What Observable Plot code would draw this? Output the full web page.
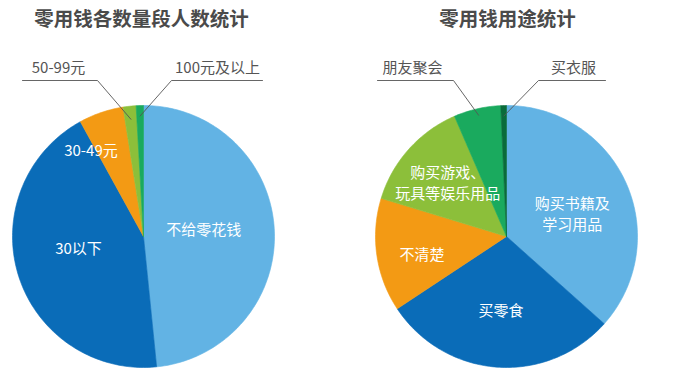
<!DOCTYPE html>
<html><head><meta charset="utf-8">
<script src="https://cdn.jsdelivr.net/npm/d3@7"></script>
<script src="https://cdn.jsdelivr.net/npm/@observablehq/plot@0.6"></script>
<style>
body{margin:0;background:#fff;}
#chart svg{display:block;}
</style>
</head><body><div id="chart"></div>
<script>
// Left pie: 零用钱各数量段人数统计 (percent, clockwise from top)
const amountTitle = "零用钱各数量段人数统计";
const amountCats = ["不给零花钱", "30以下", "30-49元", "50-99元", "100元及以上"];
const amountVals = [48.4, 43.6, 5.5, 1.6, 0.9];
const amountColors = ["#62b3e4", "#0a6cb8", "#f39a14", "#8cbf3a", "#1aaa5e"];

// Right pie: 零用钱用途统计
const usageTitle = "零用钱用途统计";
const usageCats = ["购买书籍及\n学习用品", "买零食", "不清楚", "购买游戏、\n玩具等娱乐用品", "朋友聚会", "买衣服"];
const usageVals = [36.6, 29.1, 14.0, 13.8, 5.8, 0.7];
const usageColors = ["#62b3e4", "#0a6cb8", "#f39a14", "#8cbf3a", "#1aaa5e", "#0a6b3a"];

const W = 689, H = 386, R = 131;
const pies = [
  {title: amountTitle, cats: amountCats, vals: amountVals, colors: amountColors, cx: 143, cy: 236, tx: 141,
   labelPos: {"不给零花钱": [0.46, 0, -5], "30以下": [0.52, 0, -9], "30-49元": [0.72, -22, 2]},
   lead: {"50-99元": {tx: 58, dir: -1, lineL: 22, lineR: 97, tip: 0.9}, "100元及以上": {tx: 217, dir: 1, lineL: 171, lineR: 262, tip: 0.92}}},
  {title: usageTitle, cats: usageCats, vals: usageVals, colors: usageColors, cx: 506, cy: 236, tx: 507,
   labelPos: {"购买书籍及\n学习用品": [0.55, 0, 6], "买零食": [0.57, 0, -2], "不清楚": [0.66, 1, 4], "购买游戏、\n玩具等娱乐用品": [0.6, 0, -2]},
   lead: {"朋友聚会": {tx: 412, dir: -1, lineL: 377, lineR: 453, tip: 0.95}, "买衣服": {tx: 573, dir: 1, lineL: 538, lineR: 605, tip: 0.92}}}
];

const polys = [], inLabels = [], titles = [], leadLines = [], leadTexts = [];
pies.forEach((p, pi) => {
  const arcs = d3.pie().sort(null).value(d => d)(p.vals);
  titles.push({x: p.tx, y: 19, t: p.title});
  arcs.forEach((a, i) => {
    const id = pi + "-" + i;
    const pts = [[p.cx, p.cy]];
    const n = Math.max(2, Math.ceil((a.endAngle - a.startAngle) / 0.02));
    for (let k = 0; k <= n; k++) {
      const ang = a.startAngle + (a.endAngle - a.startAngle) * k / n;
      pts.push([p.cx + R * Math.sin(ang), p.cy - R * Math.cos(ang)]);
    }
    pts.push([p.cx, p.cy]);
    pts.forEach(([x, y]) => polys.push({x, y, id, color: p.colors[i]}));
    const cat = p.cats[i];
    const mid = (a.startAngle + a.endAngle) / 2;
    if (p.labelPos[cat]) {
      const [f, dx, dy] = p.labelPos[cat];
      inLabels.push({x: p.cx + R * f * Math.sin(mid) + dx, y: p.cy - R * f * Math.cos(mid) + dy, t: cat});
    }
    if (p.lead[cat]) {
      const L = p.lead[cat];
      const tipX = p.cx + R * L.tip * Math.sin(mid), tipY = p.cy - R * L.tip * Math.cos(mid);
      const elbowX = L.dir < 0 ? L.lineR : L.lineL;
      const lid = id + "L";
      [[L.dir < 0 ? L.lineL : L.lineR, 80], [elbowX, 80], [tipX, tipY]].forEach(([x, y]) => leadLines.push({x, y, id: lid}));
      leadTexts.push({x: L.tx, y: 68, t: cat});
    }
  });
});

const font = "'Noto Sans CJK SC', 'Noto Sans', sans-serif";
const plot = Plot.plot({
  width: W, height: H,
  margin: 0,
  x: {domain: [0, W], range: [0, W], axis: null},
  y: {domain: [0, H], range: [0, H], axis: null},
  style: {fontFamily: font, background: "#fff"},
  marks: [
    Plot.line(polys, {x: "x", y: "y", z: "id", fill: "color", stroke: "color", strokeWidth: 0.6, curve: "linear"}),
    Plot.line(leadLines, {x: "x", y: "y", z: "id", stroke: "#555", strokeWidth: 0.9}),
    Plot.text(leadTexts, {x: "x", y: "y", text: "t", fill: "#555", fontSize: 15}),
    Plot.text(inLabels, {x: "x", y: "y", text: "t", fill: "#fff", fontSize: 15, lineHeight: 1.4}),
    Plot.text(titles, {x: "x", y: "y", text: "t", fill: "#4a4a4a", fontSize: 19.5, fontWeight: "bold"})
  ]
});
document.getElementById("chart").appendChild(plot);
</script>
</body></html>
